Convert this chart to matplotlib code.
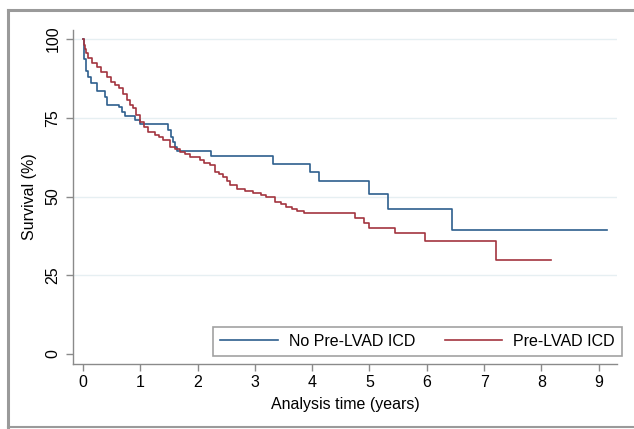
import matplotlib
matplotlib.use("Agg")
import matplotlib.pyplot as plt
from matplotlib.lines import Line2D

plt.rcParams['font.family'] = ['Liberation Sans', 'DejaVu Sans']

# Data
t_blue = [0, 0.02, 0.05, 0.09, 0.14, 0.24, 0.38, 0.42, 0.63, 0.68, 0.73, 0.91, 1.0,
          1.49, 1.53, 1.57, 1.60, 1.64, 2.23, 3.32, 3.97, 4.12, 4.99, 5.32, 6.44, 9.14]
s_blue = [100, 93.6, 90, 88, 86, 83.6, 81.7, 79, 78.3, 77, 75.5, 74.3, 73,
          71, 69, 67.4, 65.8, 64.6, 62.9, 60.3, 57.7, 54.9, 50.8, 46, 39.5, 39.5]

t_red = [0, 0.01, 0.02, 0.04, 0.06, 0.09, 0.15, 0.24, 0.32, 0.41, 0.48, 0.56, 0.62, 0.69, 0.76,
         0.82, 0.88, 0.93, 0.99, 1.06, 1.14, 1.26, 1.33, 1.4, 1.52, 1.6, 1.69, 1.78,
         1.87, 2.04, 2.12, 2.22, 2.3, 2.38, 2.45, 2.52, 2.57, 2.69, 2.83, 2.97, 3.1,
         3.2, 3.35, 3.45, 3.55, 3.65, 3.73, 3.85, 4.75, 4.9, 5.0, 5.45, 5.97, 7.21, 8.17]
s_red = [100, 99, 98, 97, 95.5, 94, 92.5, 91.2, 89.5, 88, 86.5, 85.4, 84.4, 82.5, 80.6,
         79.2, 78, 76, 73.7, 72, 70.5, 69.5, 68.8, 67.9, 65.8, 65, 64.3, 63.5,
         62.6, 61.6, 60.8, 60, 57.8, 57, 56.2, 55, 53.7, 52.4, 51.8, 51, 50.5,
         50, 48.3, 47.5, 46.7, 46, 45.5, 44.7, 43.2, 41.6, 40, 38.4, 35.9, 29.8, 29.8]

labels = ["No Pre-LVAD ICD", "Pre-LVAD ICD"]
x_ticks = list(range(0, 10))
y_ticks = [0, 25, 50, 75, 100]

W, H = 634, 429
fig = plt.figure(figsize=(W / 100, H / 100), dpi=100)
fig.patch.set_facecolor('white')

ax = fig.add_axes([73 / W, 1 - 364 / H, (617 - 73) / W, (364 - 30) / H])

blue = '#2e5f8e'
red = '#a3353f'
ax.step(t_blue, s_blue, where='post', color=blue, lw=1.2, label=labels[0])
ax.step(t_red, s_red, where='post', color=red, lw=1.2, label=labels[1])

ax.set_xlim(-0.175, 9.32)
ax.set_ylim(-3.2, 102.9)
ax.set_xticks(x_ticks)
ax.set_yticks(y_ticks)
ax.set_yticklabels([str(v) for v in y_ticks], rotation=90, va='center')

for y in y_ticks[1:]:
    ax.axhline(y, color='#e6eff2', lw=1.0, zorder=0)

for s in ['top', 'right']:
    ax.spines[s].set_visible(False)
for s in ['left', 'bottom']:
    ax.spines[s].set_color('#8a8a8a')
    ax.spines[s].set_linewidth(1.0)

ax.tick_params(axis='both', colors='#8a8a8a', length=5, width=1.0,
               labelcolor='black', labelsize=11.5)
ax.tick_params(axis='x', pad=3)
ax.tick_params(axis='y', pad=4)

ax.set_xlabel("Analysis time (years)", fontsize=11.5, labelpad=5)
ax.set_ylabel("Survival (%)", fontsize=11.5, labelpad=6)

leg = fig.legend(loc='lower left',
                 bbox_to_anchor=(213 / W, 1 - 356 / H, 409 / W, 29 / H),
                 mode='expand', ncol=2, frameon=True, fancybox=False,
                 edgecolor='#8a8a8a', fontsize=11.5, handlelength=3.6,
                 handletextpad=0.7, borderaxespad=0, borderpad=0.45)
leg.get_frame().set_linewidth(1.2)

# outer frame (gray)
fc = '#9a9a9a'
fig.add_artist(Line2D([8 / W, 1], [1 - 10 / H, 1 - 10 / H], color=fc, lw=2.2,
                      transform=fig.transFigure))
fig.add_artist(Line2D([8 / W, 8 / W], [1 - 10 / H, 1 - 427 / H], color=fc, lw=2.2,
                      transform=fig.transFigure))
fig.add_artist(Line2D([8 / W, 1], [1 - 427 / H, 1 - 427 / H], color=fc, lw=1.5,
                      transform=fig.transFigure))

fig.savefig("out.png", dpi=100)
